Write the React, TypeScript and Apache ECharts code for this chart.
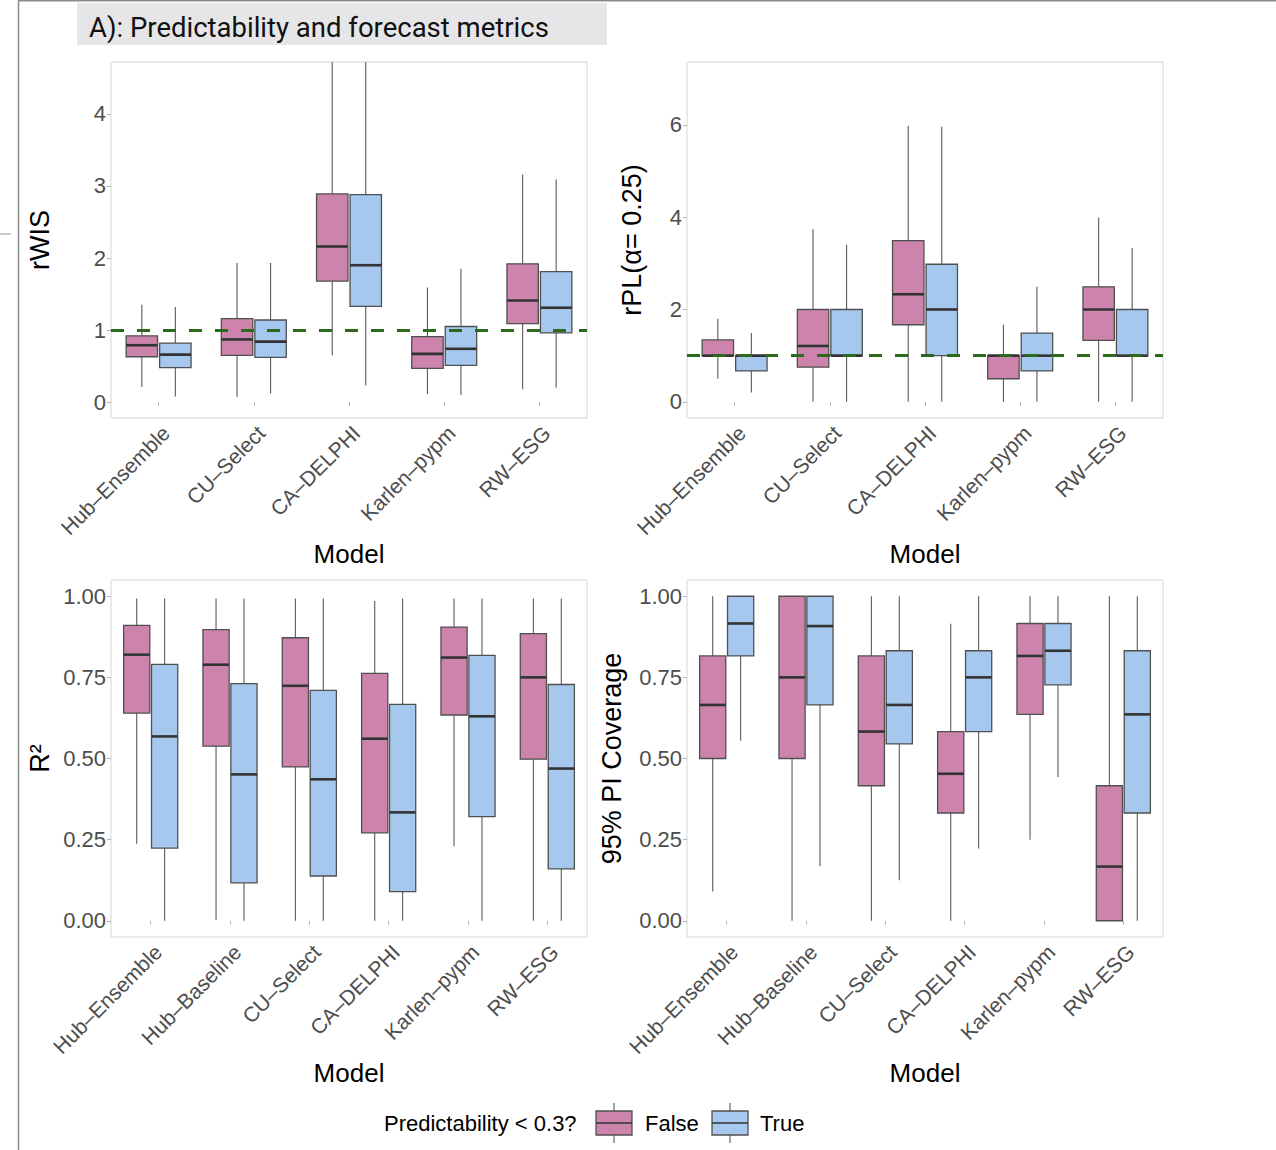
import React, { useEffect, useRef } from "react";
import * as echarts from "echarts";

// ---------- data ----------
const modelsTop = ["Hub–Ensemble", "CU–Select", "CA–DELPHI", "Karlen–pypm", "RW–ESG"];
const modelsBottom = ["Hub–Ensemble", "Hub–Baseline", "CU–Select", "CA–DELPHI", "Karlen–pypm", "RW–ESG"];

// each row: [lowerWhisker, Q1, median, Q3, upperWhisker]
const rwisFalse = [
  [0.21, 0.63, 0.79, 0.92, 1.35],
  [0.07, 0.65, 0.87, 1.16, 1.93],
  [0.65, 1.68, 2.16, 2.89, 4.72],
  [0.11, 0.47, 0.67, 0.91, 1.59],
  [0.18, 1.09, 1.41, 1.92, 3.16],
];
const rwisTrue = [
  [0.08, 0.48, 0.66, 0.82, 1.32],
  [0.12, 0.62, 0.84, 1.14, 1.93],
  [0.23, 1.33, 1.9, 2.88, 4.72],
  [0.1, 0.51, 0.74, 1.05, 1.85],
  [0.2, 0.96, 1.31, 1.81, 3.09],
];
const rplFalse = [
  [0.5, 1.0, 1.0, 1.34, 1.8],
  [0, 0.75, 1.21, 2.0, 3.74],
  [0, 1.67, 2.33, 3.49, 5.98],
  [0, 0.5, 1.0, 1.0, 1.67],
  [0, 1.33, 2.0, 2.49, 3.99],
];
const rplTrue = [
  [0.2, 0.67, 1.0, 1.0, 1.49],
  [0, 1.0, 1.0, 2.0, 3.4],
  [0, 1.0, 2.0, 2.98, 5.96],
  [0, 0.67, 1.0, 1.49, 2.49],
  [0, 1.0, 1.0, 2.0, 3.33],
];
const r2False = [
  [0.237, 0.64, 0.82, 0.91, 0.993],
  [0.002, 0.538, 0.789, 0.897, 0.993],
  [0, 0.474, 0.724, 0.872, 0.993],
  [0, 0.271, 0.561, 0.762, 0.985],
  [0.23, 0.634, 0.811, 0.905, 0.993],
  [0, 0.498, 0.75, 0.885, 0.993],
];
const r2True = [
  [0, 0.224, 0.568, 0.79, 0.993],
  [0, 0.117, 0.451, 0.731, 0.993],
  [0, 0.138, 0.436, 0.71, 0.993],
  [0, 0.09, 0.334, 0.667, 0.993],
  [0, 0.321, 0.63, 0.818, 0.993],
  [0, 0.16, 0.469, 0.728, 0.993],
];
const covFalse = [
  [0.09, 0.5, 0.665, 0.816, 1.0],
  [0, 0.5, 0.75, 1.0, 1.0],
  [0, 0.416, 0.583, 0.816, 1.0],
  [0, 0.332, 0.453, 0.583, 0.915],
  [0.25, 0.636, 0.816, 0.916, 1.0],
  [0, 0, 0.167, 0.416, 1.0],
];
const covTrue = [
  [0.555, 0.816, 0.916, 1.0, 1.0],
  [0.168, 0.665, 0.908, 1.0, 1.0],
  [0.125, 0.545, 0.665, 0.832, 1.0],
  [0.223, 0.583, 0.75, 0.832, 1.0],
  [0.443, 0.727, 0.832, 0.916, 1.0],
  [0, 0.332, 0.636, 0.832, 1.0],
];

const rwisTicks = [0, 1, 2, 3, 4];
const rplTicks = [0, 2, 4, 6];
const fracTicks = [0, 0.25, 0.5, 0.75, 1.0];
const referenceLine = 1;

const groupNames = ["False", "True"];
const legendTitle = "Predictability < 0.3?";
const titleText = "A): Predictability and forecast metrics";

// ---------- styles ----------
const PINK = "#CC83AC";
const BLUE = "#A6C8EE";
const FONT = "Liberation Sans, Arial, Helvetica, sans-serif";
const LABEL_GRAY = "#4d4d4d";
const TICK_GRAY = "#b3b3b3";

function boxSeries(data: number[][], gi: number, axisIdx: number, color: string) {
  const offset = gi === 0 ? -0.176 : 0.176;
  return {
    type: "custom",
    name: groupNames[gi],
    xAxisIndex: axisIdx,
    yAxisIndex: axisIdx,
    z: 2,
    silent: true,
    data: data.map((d, i) => [i, ...d]),
    encode: { x: 0, y: [1, 2, 3, 4, 5] },
    renderItem: (params: any, api: any) => {
      const cat = api.value(0);
      const low = api.value(1);
      const q1 = api.value(2);
      const med = api.value(3);
      const q3 = api.value(4);
      const high = api.value(5);
      const band = api.size([1, 0])[0];
      const xc = api.coord([cat, med])[0] + offset * band;
      const w = band * 0.33;
      const yLow = api.coord([cat, low])[1];
      const yQ1 = api.coord([cat, q1])[1];
      const yMed = api.coord([cat, med])[1];
      const yQ3 = api.coord([cat, q3])[1];
      const yHigh = api.coord([cat, high])[1];
      const wStyle = { stroke: "#5a5a5a", lineWidth: 1.1 };
      return {
        type: "group",
        children: [
          { type: "line", shape: { x1: xc, y1: yHigh, x2: xc, y2: yQ3 }, style: wStyle },
          { type: "line", shape: { x1: xc, y1: yQ1, x2: xc, y2: yLow }, style: wStyle },
          {
            type: "rect",
            shape: { x: xc - w / 2, y: yQ3, width: w, height: yQ1 - yQ3 },
            style: { fill: color, stroke: "#505050", lineWidth: 1.3 },
          },
          {
            type: "line",
            shape: { x1: xc - w / 2, y1: yMed, x2: xc + w / 2, y2: yMed },
            style: { stroke: "#333333", lineWidth: 2.6 },
          },
        ],
      };
    },
  };
}

function refLineSeries(axisIdx: number) {
  return {
    type: "line",
    xAxisIndex: axisIdx,
    yAxisIndex: axisIdx,
    data: [],
    z: 10,
    silent: true,
    markLine: {
      silent: true,
      symbol: ["none", "none"],
      label: { show: false },
      lineStyle: { color: "#2b6a1d", width: 3.2, type: [13, 13] },
      data: [{ yAxis: referenceLine }],
    },
  };
}

function xAxisCfg(cats: string[], gridIndex: number, nameGap: number) {
  return {
    type: "category",
    gridIndex,
    data: cats,
    boundaryGap: true,
    axisLine: { show: false },
    axisTick: { show: true, alignWithLabel: true, length: 4, lineStyle: { color: TICK_GRAY, width: 1 } },
    axisLabel: {
      interval: 0,
      rotate: 45,
      fontSize: 21,
      color: LABEL_GRAY,
      fontFamily: FONT,
      margin: 4,
      verticalAlign: "top",
    },
    splitLine: { show: false },
    name: "Model",
    nameLocation: "middle",
    nameGap,
    nameTextStyle: { fontSize: 26, color: "#000", fontFamily: FONT },
  };
}

function yAxisCfg(gridIndex: number, min: number, max: number, ticks: number[], name: string, nameGap: number, fmt: (v: number) => string) {
  return {
    type: "value",
    gridIndex,
    min,
    max,
    axisLine: { show: false },
    axisTick: { show: true, length: 4, lineStyle: { color: TICK_GRAY, width: 1 }, customValues: ticks },
    axisLabel: { fontSize: 22, color: LABEL_GRAY, fontFamily: FONT, margin: 5, customValues: ticks, formatter: fmt },
    splitLine: { show: false },
    name,
    nameLocation: "middle",
    nameGap,
    nameRotate: 90,
    nameTextStyle: { fontSize: 27, color: "#000", fontFamily: FONT },
  };
}

export default function App() {
  const ref = useRef<HTMLDivElement>(null);
  useEffect(() => {
    if (!ref.current) return;
    const chart = echarts.init(ref.current, undefined, { renderer: "svg" });
    const gridStyle = { show: true, borderColor: "#d6d6d6", borderWidth: 1, backgroundColor: "#fff" };
    const intFmt = (v: number) => String(v);
    const fracFmt = (v: number) => v.toFixed(2);
    const legendFont = { fontSize: 22, fontFamily: FONT, fill: "#000", textVerticalAlign: "middle" };
    const option: any = {
      animation: false,
      backgroundColor: "#ffffff",
      textStyle: { fontFamily: FONT },
      grid: [
        { left: 111, top: 62, width: 476, height: 356, ...gridStyle },
        { left: 687, top: 62, width: 476, height: 356, ...gridStyle },
        { left: 111, top: 580, width: 476, height: 357, ...gridStyle },
        { left: 687, top: 580, width: 476, height: 357, ...gridStyle },
      ],
      xAxis: [
        xAxisCfg(modelsTop, 0, 118),
        xAxisCfg(modelsTop, 1, 118),
        xAxisCfg(modelsBottom, 2, 117),
        xAxisCfg(modelsBottom, 3, 117),
      ],
      yAxis: [
        yAxisCfg(0, -0.22, 4.72, rwisTicks, "rWIS", 58, intFmt),
        yAxisCfg(1, -0.35, 7.36, rplTicks, "rPL(α= 0.25)", 42, intFmt),
        yAxisCfg(2, -0.05, 1.05, fracTicks, "R²", 58, fracFmt),
        yAxisCfg(3, -0.05, 1.05, fracTicks, "95% PI Coverage", 62, fracFmt),
      ],
      series: [
        boxSeries(rwisFalse, 0, 0, PINK),
        boxSeries(rwisTrue, 1, 0, BLUE),
        refLineSeries(0),
        boxSeries(rplFalse, 0, 1, PINK),
        boxSeries(rplTrue, 1, 1, BLUE),
        refLineSeries(1),
        boxSeries(r2False, 0, 2, PINK),
        boxSeries(r2True, 1, 2, BLUE),
        boxSeries(covFalse, 0, 3, PINK),
        boxSeries(covTrue, 1, 3, BLUE),
      ],
      graphic: [
        // outer frame pieces
        { type: "line", shape: { x1: 18.5, y1: 0, x2: 18.5, y2: 1150 }, style: { stroke: "#8a8a8a", lineWidth: 1.5 } },
        { type: "line", shape: { x1: 18, y1: 0.75, x2: 1276, y2: 0.75 }, style: { stroke: "#8a8a8a", lineWidth: 1.5 } },
        { type: "line", shape: { x1: 0, y1: 234, x2: 11, y2: 234 }, style: { stroke: "#9a9a9a", lineWidth: 1 } },
        // title strip
        { type: "rect", shape: { x: 77, y: 3, width: 530, height: 42 }, style: { fill: "#e6e6e8" } },
        {
          type: "text",
          x: 89,
          y: 27,
          style: { text: titleText, fontSize: 27.5, fontFamily: "Roboto, sans-serif", fill: "#111", textVerticalAlign: "middle" },
        },
        // legend
        { type: "text", x: 384, y: 1123, style: { text: legendTitle, ...legendFont } },
        { type: "line", shape: { x1: 614, y1: 1103, x2: 614, y2: 1143 }, style: { stroke: "#5a5a5a", lineWidth: 1.1 } },
        { type: "rect", shape: { x: 596, y: 1111, width: 36, height: 24 }, style: { fill: PINK, stroke: "#505050", lineWidth: 1.3 } },
        { type: "line", shape: { x1: 596, y1: 1123, x2: 632, y2: 1123 }, style: { stroke: "#333", lineWidth: 1.6 } },
        { type: "text", x: 645, y: 1123, style: { text: groupNames[0], ...legendFont } },
        { type: "line", shape: { x1: 730, y1: 1103, x2: 730, y2: 1143 }, style: { stroke: "#5a5a5a", lineWidth: 1.1 } },
        { type: "rect", shape: { x: 712, y: 1111, width: 36, height: 24 }, style: { fill: BLUE, stroke: "#505050", lineWidth: 1.3 } },
        { type: "line", shape: { x1: 712, y1: 1123, x2: 748, y2: 1123 }, style: { stroke: "#333", lineWidth: 1.6 } },
        { type: "text", x: 760, y: 1123, style: { text: groupNames[1], ...legendFont } },
      ],
    };
    chart.setOption(option);
    return () => chart.dispose();
  }, []);
  return (
    <div
      ref={ref}
      style={{ position: "absolute", left: 0, top: 0, width: 1276, height: 1150, background: "#fff" }}
    />
  );
}
